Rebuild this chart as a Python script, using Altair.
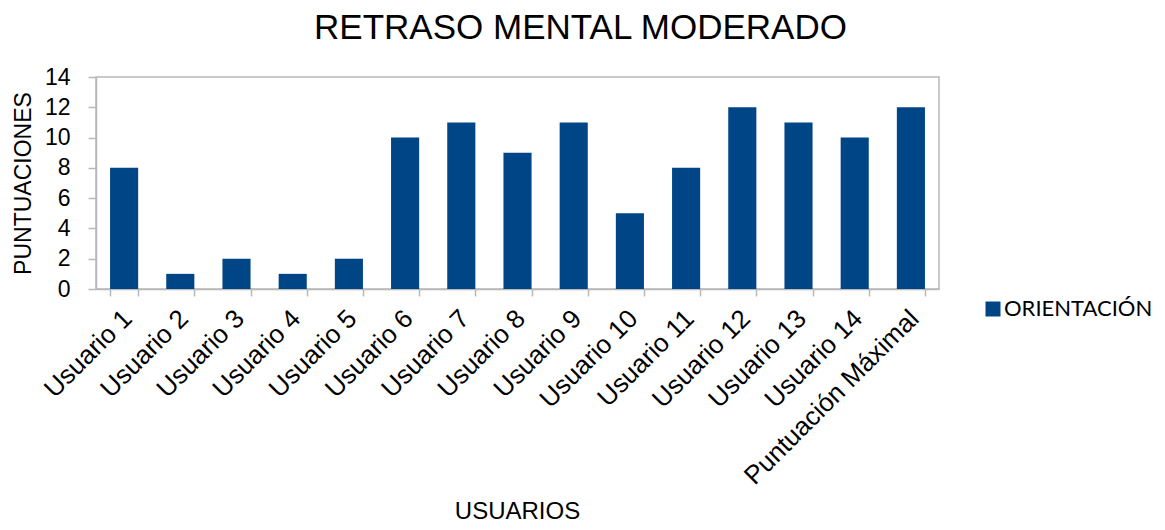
import altair as alt
import pandas as pd

categorias = ["Usuario 1", "Usuario 2", "Usuario 3", "Usuario 4", "Usuario 5",
              "Usuario 6", "Usuario 7", "Usuario 8", "Usuario 9", "Usuario 10",
              "Usuario 11", "Usuario 12", "Usuario 13", "Usuario 14",
              "Puntuación Máximal"]
valores = [8, 1, 2, 1, 2, 10, 11, 9, 11, 5, 8, 12, 11, 10, 12]
serie = "ORIENTACIÓN"
y_ticks = [0, 2, 4, 6, 8, 10, 12, 14]

df = pd.DataFrame({"usuario": categorias, "puntuacion": valores, "serie": serie})

FONT = "Liberation Sans"
GRAY = "#b8b8b8"

chart = alt.Chart(df).mark_bar(color="#004586").encode(
    x=alt.X("usuario:N", sort=categorias,
            scale=alt.Scale(paddingInner=0.5, paddingOuter=0.25),
            axis=alt.Axis(title="USUARIOS", labelAngle=315, labelAlign="right",
                          labelBaseline="top", labelPadding=9, labelOffset=-6, tickSize=7,
                          tickBand="extent", labelFontSize=26, titleFontSize=24,
                          labelFont=FONT, titleFont=FONT, titleFontWeight="normal",
                          labelColor="black", titleColor="black", labelLimit=0,
                          domainColor=GRAY, tickColor=GRAY, domainWidth=1.5, tickWidth=1.5,
                          titleY=229, titleBaseline="alphabetic", titleX=421,
                          titleAlign="center", labelOverlap=False)),
    y=alt.Y("puntuacion:Q", scale=alt.Scale(domain=[0, 14]),
            axis=alt.Axis(title="PUNTUACIONES", values=y_ticks, grid=False,
                          tickSize=8, labelPadding=18, labelFontSize=23,
                          titleFontSize=23, labelFont=FONT, titleFont=FONT,
                          titleFontWeight="normal", labelColor="black",
                          titleColor="black", domainColor=GRAY, tickColor=GRAY,
                          domainWidth=1.5, tickWidth=1.5, titleX=-66, titleY=106,
                          titleAlign="center", titleBaseline="alphabetic")),
    color=alt.Color("serie:N", scale=alt.Scale(range=["#004586"]),
                    legend=alt.Legend(title=None, orient="none", legendX=886, legendY=221,
                                      symbolType="square", symbolSize=225,
                                      symbolStrokeWidth=0, labelFont="Lato",
                                      labelFontSize=22, labelColor="black",
                                      labelOffset=0)),
).properties(
    width=843, height=212,
    title=alt.TitleParams("RETRASO MENTAL MODERADO", font=FONT, fontSize=35,
                          fontWeight="normal", color="black", anchor="middle",
                          dx=63, offset=20),
    autosize=alt.AutoSizeParams(type="none"),
    padding={"left": 88, "top": 69, "right": 218, "bottom": 233},
).configure_view(stroke=GRAY, strokeWidth=1.5)

chart.save("out.html", embed_options={"renderer": "svg", "actions": False})
